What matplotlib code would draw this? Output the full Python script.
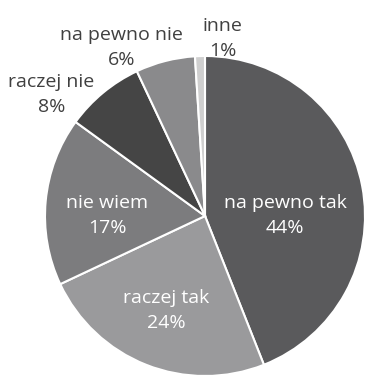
import matplotlib
matplotlib.use("Agg")
import matplotlib.pyplot as plt

categories = ["na pewno tak", "raczej tak", "nie wiem", "raczej nie", "na pewno nie", "inne"]
values = [44, 24, 17, 8, 6, 1]

colors = ["#5a5a5c", "#9a9a9c", "#7c7c7e", "#454545", "#8a8a8c", "#cfcfcf"]
label_pos = [(0.50, 0.0), (-0.24, -0.59), (-0.61, 0.0), (-0.96, 0.76), (-0.52, 1.05), (0.11, 1.11)]
label_col = ["white", "white", "white", "#404040", "#404040", "#404040"]

fig = plt.figure(figsize=(3.69, 3.77), dpi=100)
ax = fig.add_axes([45 / 369, 1 / 377, 320 / 369, 320 / 377])
ax.pie(values, colors=colors, startangle=90, counterclock=False,
       wedgeprops=dict(edgecolor="white", linewidth=1.5))
for cat, v, (x, y), c in zip(categories, values, label_pos, label_col):
    ax.text(x, y, f"{cat}\n{v}%", ha="center", va="center", color=c,
            fontsize=14, family="Open Sans", linespacing=1.5)
ax.set_xlim(-1, 1)
ax.set_ylim(-1, 1)
ax.set_aspect("equal")
ax.axis("off")
fig.savefig("out.png", dpi=100)
